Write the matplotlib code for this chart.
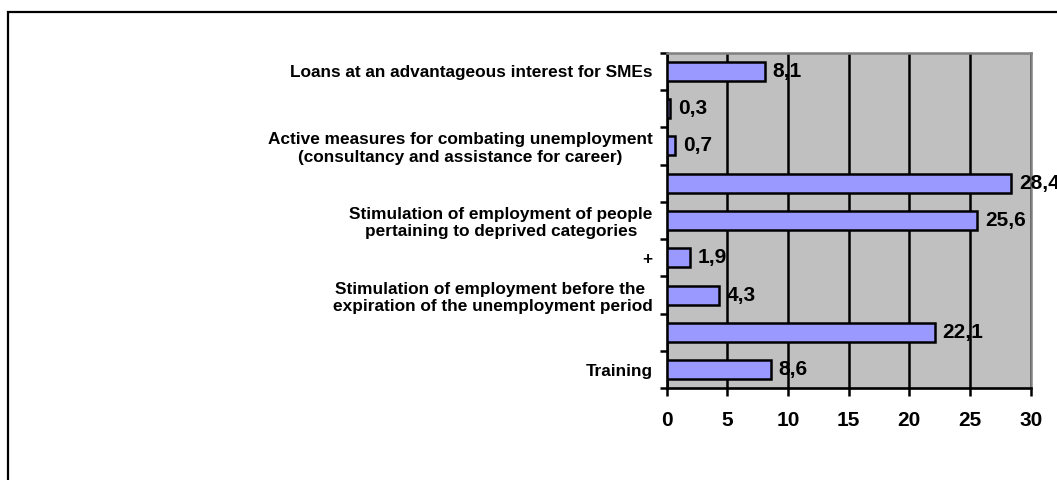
import matplotlib
matplotlib.use("Agg")
import matplotlib.pyplot as plt
from matplotlib.patches import Rectangle

categories = [
    "Training",
    "",
    "Stimulation of employment before the \nexpiration of the unemployment period",
    "+",
    "Stimulation of employment of people\npertaining to deprived categories",
    "",
    "Active measures for combating unemployment\n(consultancy and assistance for career)",
    "",
    "Loans at an advantageous interest for SMEs",
]
values = [8.6, 22.1, 4.3, 1.9, 25.6, 28.4, 0.7, 0.3, 8.1]
value_labels = ["8,6", "22,1", "4,3", "1,9", "25,6", "28,4", "0,7", "0,3", "8,1"]
xticks = [0, 5, 10, 15, 20, 25, 30]

plt.rcParams['font.family'] = ['Liberation Sans', 'DejaVu Sans']

W, H = 1057, 480
fig = plt.figure(figsize=(W / 100, H / 100), dpi=100)
fig.patch.set_facecolor("white")

# outer chart border (extends beyond right/bottom edge)
fig.patches.append(Rectangle((7.5 / W, -0.1), 1.2, (H - 11.5) / H + 0.1,
                             transform=fig.transFigure, fill=False,
                             edgecolor="black", linewidth=1.6, zorder=0))

left, right = 666.7 / W, 1030.7 / W
top, bottom = (H - 52.7) / H, (H - 388.3) / H
ax = fig.add_axes([left, bottom, right - left, top - bottom])
ax.set_facecolor("#C0C0C0")

ypos = list(range(len(values)))
ax.barh(ypos, values, height=0.51, color="#9999FF", edgecolor="black",
        linewidth=1.8, zorder=3)

for y, v, lab in zip(ypos, values, value_labels):
    ax.annotate(lab, xy=(v, y), xytext=(5.5, 0), textcoords="offset points",
                ha="left", va="center", fontsize=15, fontweight="bold",
                annotation_clip=False, clip_on=False, zorder=4)

ax.set_xlim(0, 30)
ax.set_ylim(-0.5, len(values) - 0.5)
ax.set_xticks(xticks)
ax.set_xticklabels([str(t) for t in xticks], fontsize=15, fontweight="bold")

ax.set_yticks([i - 0.5 for i in range(len(values) + 1)])
ax.set_yticklabels([])
ax.set_yticks(ypos, minor=True)
ax.set_yticklabels(categories, minor=True, fontsize=12.4, fontweight="bold",
                   linespacing=1.2)
for t in ax.get_yticklabels(minor=True):
    t.set_multialignment("center")
ax.tick_params(axis="y", which="minor", length=0, pad=10)
ax.tick_params(axis="y", which="major", length=5, width=1.8, direction="out")
ax.tick_params(axis="x", which="major", length=5.5, width=1.8, direction="out", pad=11)

ax.xaxis.grid(True, color="black", linewidth=1.8, zorder=1)
ax.set_axisbelow(True)

for s in ["left", "bottom"]:
    ax.spines[s].set_color("black")
    ax.spines[s].set_linewidth(1.9)
for s in ["top", "right"]:
    ax.spines[s].set_color("#808080")
    ax.spines[s].set_linewidth(1.8)

fig.savefig("out.png", dpi=100)
